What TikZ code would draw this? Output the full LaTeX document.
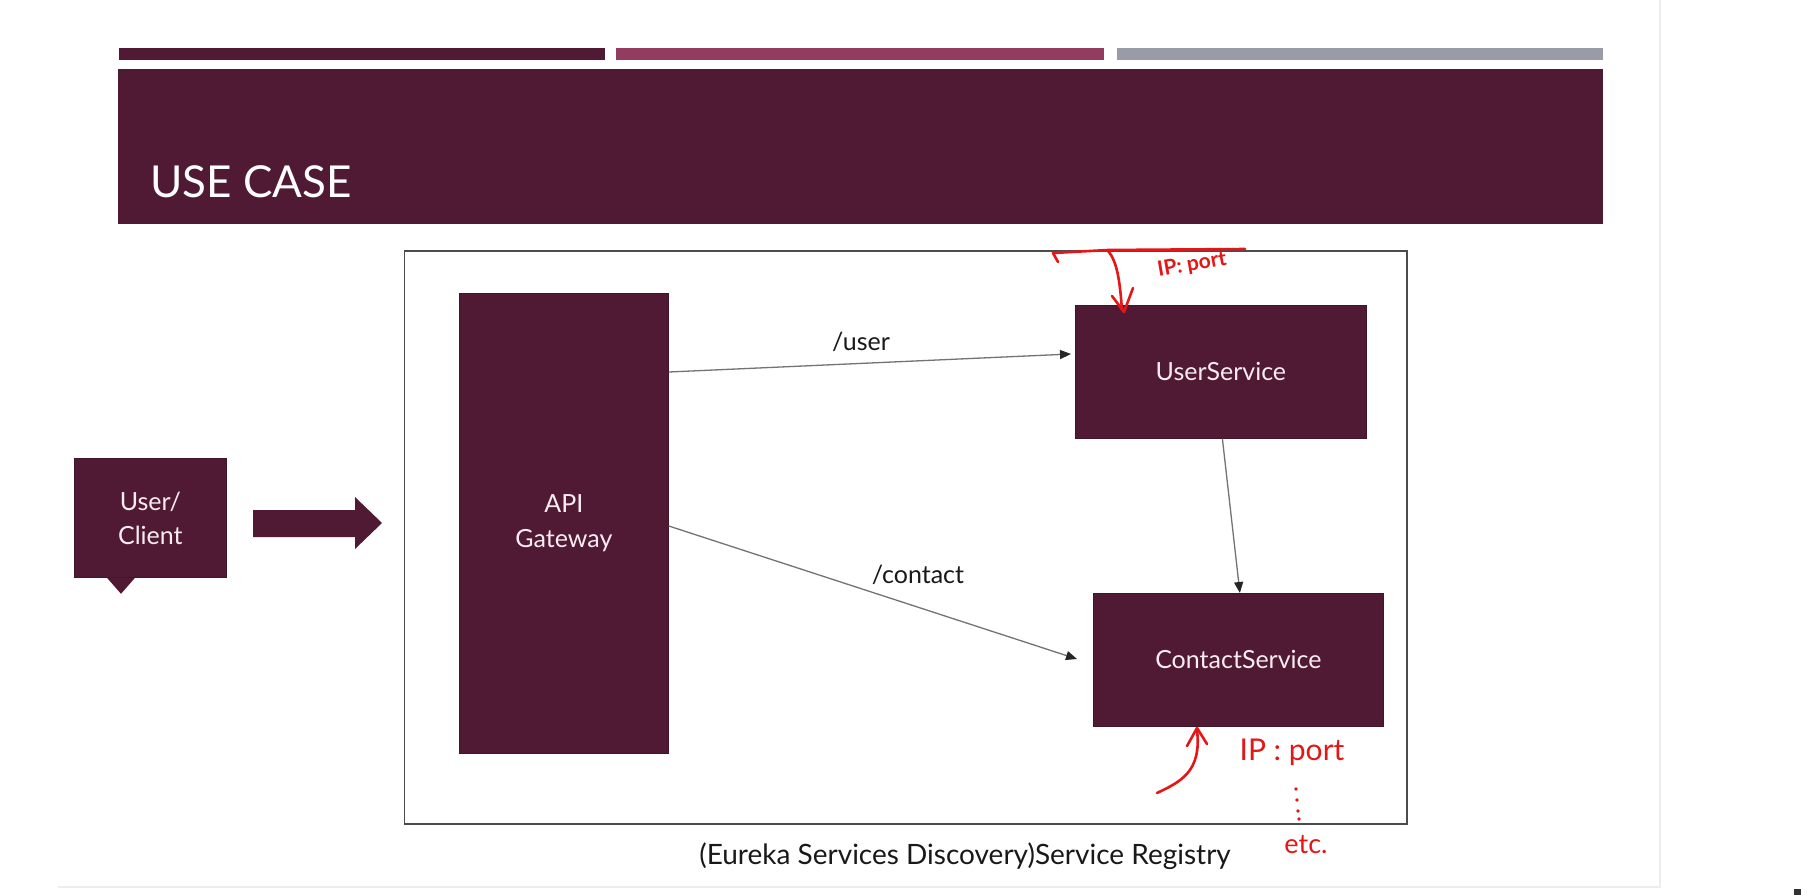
\documentclass[tikz,border=0pt]{standalone}
\usepackage{fontspec}
\setmainfont{Lato}
\usetikzlibrary{arrows.meta,calc}
\definecolor{maroon}{RGB}{80,26,52}
\definecolor{pinkbar}{RGB}{146,60,96}
\definecolor{graybar}{RGB}{153,156,166}
\definecolor{ink}{RGB}{228,22,22}
\definecolor{nodetext}{RGB}{250,236,243}
\begin{document}
\begin{tikzpicture}[x=1pt,y=-1pt,
  box/.style={fill=maroon,draw=maroon!80!black,line width=0.8pt,text=nodetext,
    font=\fontsize{25}{35}\selectfont,align=center,inner sep=0pt,anchor=north west},
  conn/.style={draw=black!55,line width=1.3pt,
    -{Triangle[length=11pt,width=9pt,color=black!85]}},
  lbl/.style={font=\fontsize{25}{30}\selectfont,text=black!90,inner sep=0pt},
  hand/.style={draw=ink,line width=2.6pt,line cap=round,line join=round},
  handtext/.style={text=ink,font=\fontsize{24}{28}\selectfont,inner sep=0pt}
]
\useasboundingbox (0,0) rectangle (1813,895);
\fill[white] (0,0) rectangle (1813,895);
% slide border
\draw[black!7,line width=1.5pt] (58,887) -- (1660,887) -- (1660,0);
% top bars
\fill[maroon] (119,48) rectangle (605,60);
\fill[pinkbar] (616,48) rectangle (1104,60);
\fill[graybar] (1117,48) rectangle (1603,60);
% banner
\fill[maroon] (118,69) rectangle (1603,224);
\node[anchor=base west,text=white,font=\fontsize{44}{44}\selectfont,inner sep=0pt] (title) at (150,197) {USE CASE};
% registry box
\node[draw=black!70,line width=1.8pt,minimum width=1002.5pt,minimum height=573pt,inner sep=0pt,anchor=north west] (reg) at (403.5,250) {};
\node[lbl,font=\fontsize{28}{32}\selectfont] (reglabel) at (965,856) {(Eureka Services Discovery)Service Registry};
% nodes
\node[box,minimum width=209pt,minimum height=460.5pt] (api) at (459,292.5) {API\\Gateway};
\node[box,minimum width=291pt,minimum height=133pt] (user) at (1075,305) {UserService};
\node[box,minimum width=290pt,minimum height=133pt] (contact) at (1093,593) {ContactService};
\node[box,minimum width=152pt,minimum height=119pt,font=\fontsize{25}{34}\selectfont] (client) at (74,458) {User/\\Client};
\fill[maroon] ($(client.south west)+(33,0)$) -- ($(client.south west)+(61,0)$) -- ($(client.south west)+(47,16)$) -- cycle;
% block arrow
\fill[maroon] (253,510) -- (355,510) -- (355,497) -- (382,523) -- (355,549) -- (355,537) -- (253,537) -- cycle;
% connectors
\draw[conn] ($(api.north east)+(0,79.5)$) -- ($(user.north west)+(-4,49)$);
\draw[conn] ($(api.north east)+(0,233.5)$) -- ($(contact.north west)+(-16,66)$);
\draw[conn] ($(user.south)+(1.5,0)$) -- ($(contact.north)+(1.5,0)$);
\node[lbl] (ulbl) at (861,342) {/user};
\node[lbl] (clbl) at (918,575) {/contact};
% handwritten annotations
\draw[hand] (1245,249) -- (1108,250) -- (1053,253) -- (1058,262);
\draw[hand] (1108,251) .. controls (1118,262) and (1120,285) .. (1122,310);
\draw[hand] (1112,296) -- (1124,312) -- (1133,288);
\node[handtext,rotate=10,font=\bfseries\fontsize{21}{25}\selectfont] (ip1) at (1192,265) {IP: port};
\draw[hand] (1157,793) .. controls (1180,782) and (1202,772) .. (1197,730);
\draw[hand] (1187,746) -- (1197,728) -- (1207,744);
\node[handtext,font=\fontsize{30}{34}\selectfont] (ip2) at (1292,752) {IP : port};
\foreach \yy/\xx in {789/1296,800/1297,811/1298,819/1299}
  \fill[ink] (\xx,\yy) circle (1.8pt);
\node[handtext,font=\fontsize{27}{30}\selectfont] (etc) at (1306,845) {etc.};
% tiny mark bottom right
\fill[black!80] (1794,889) rectangle (1801,895);
\end{tikzpicture}
\end{document}
